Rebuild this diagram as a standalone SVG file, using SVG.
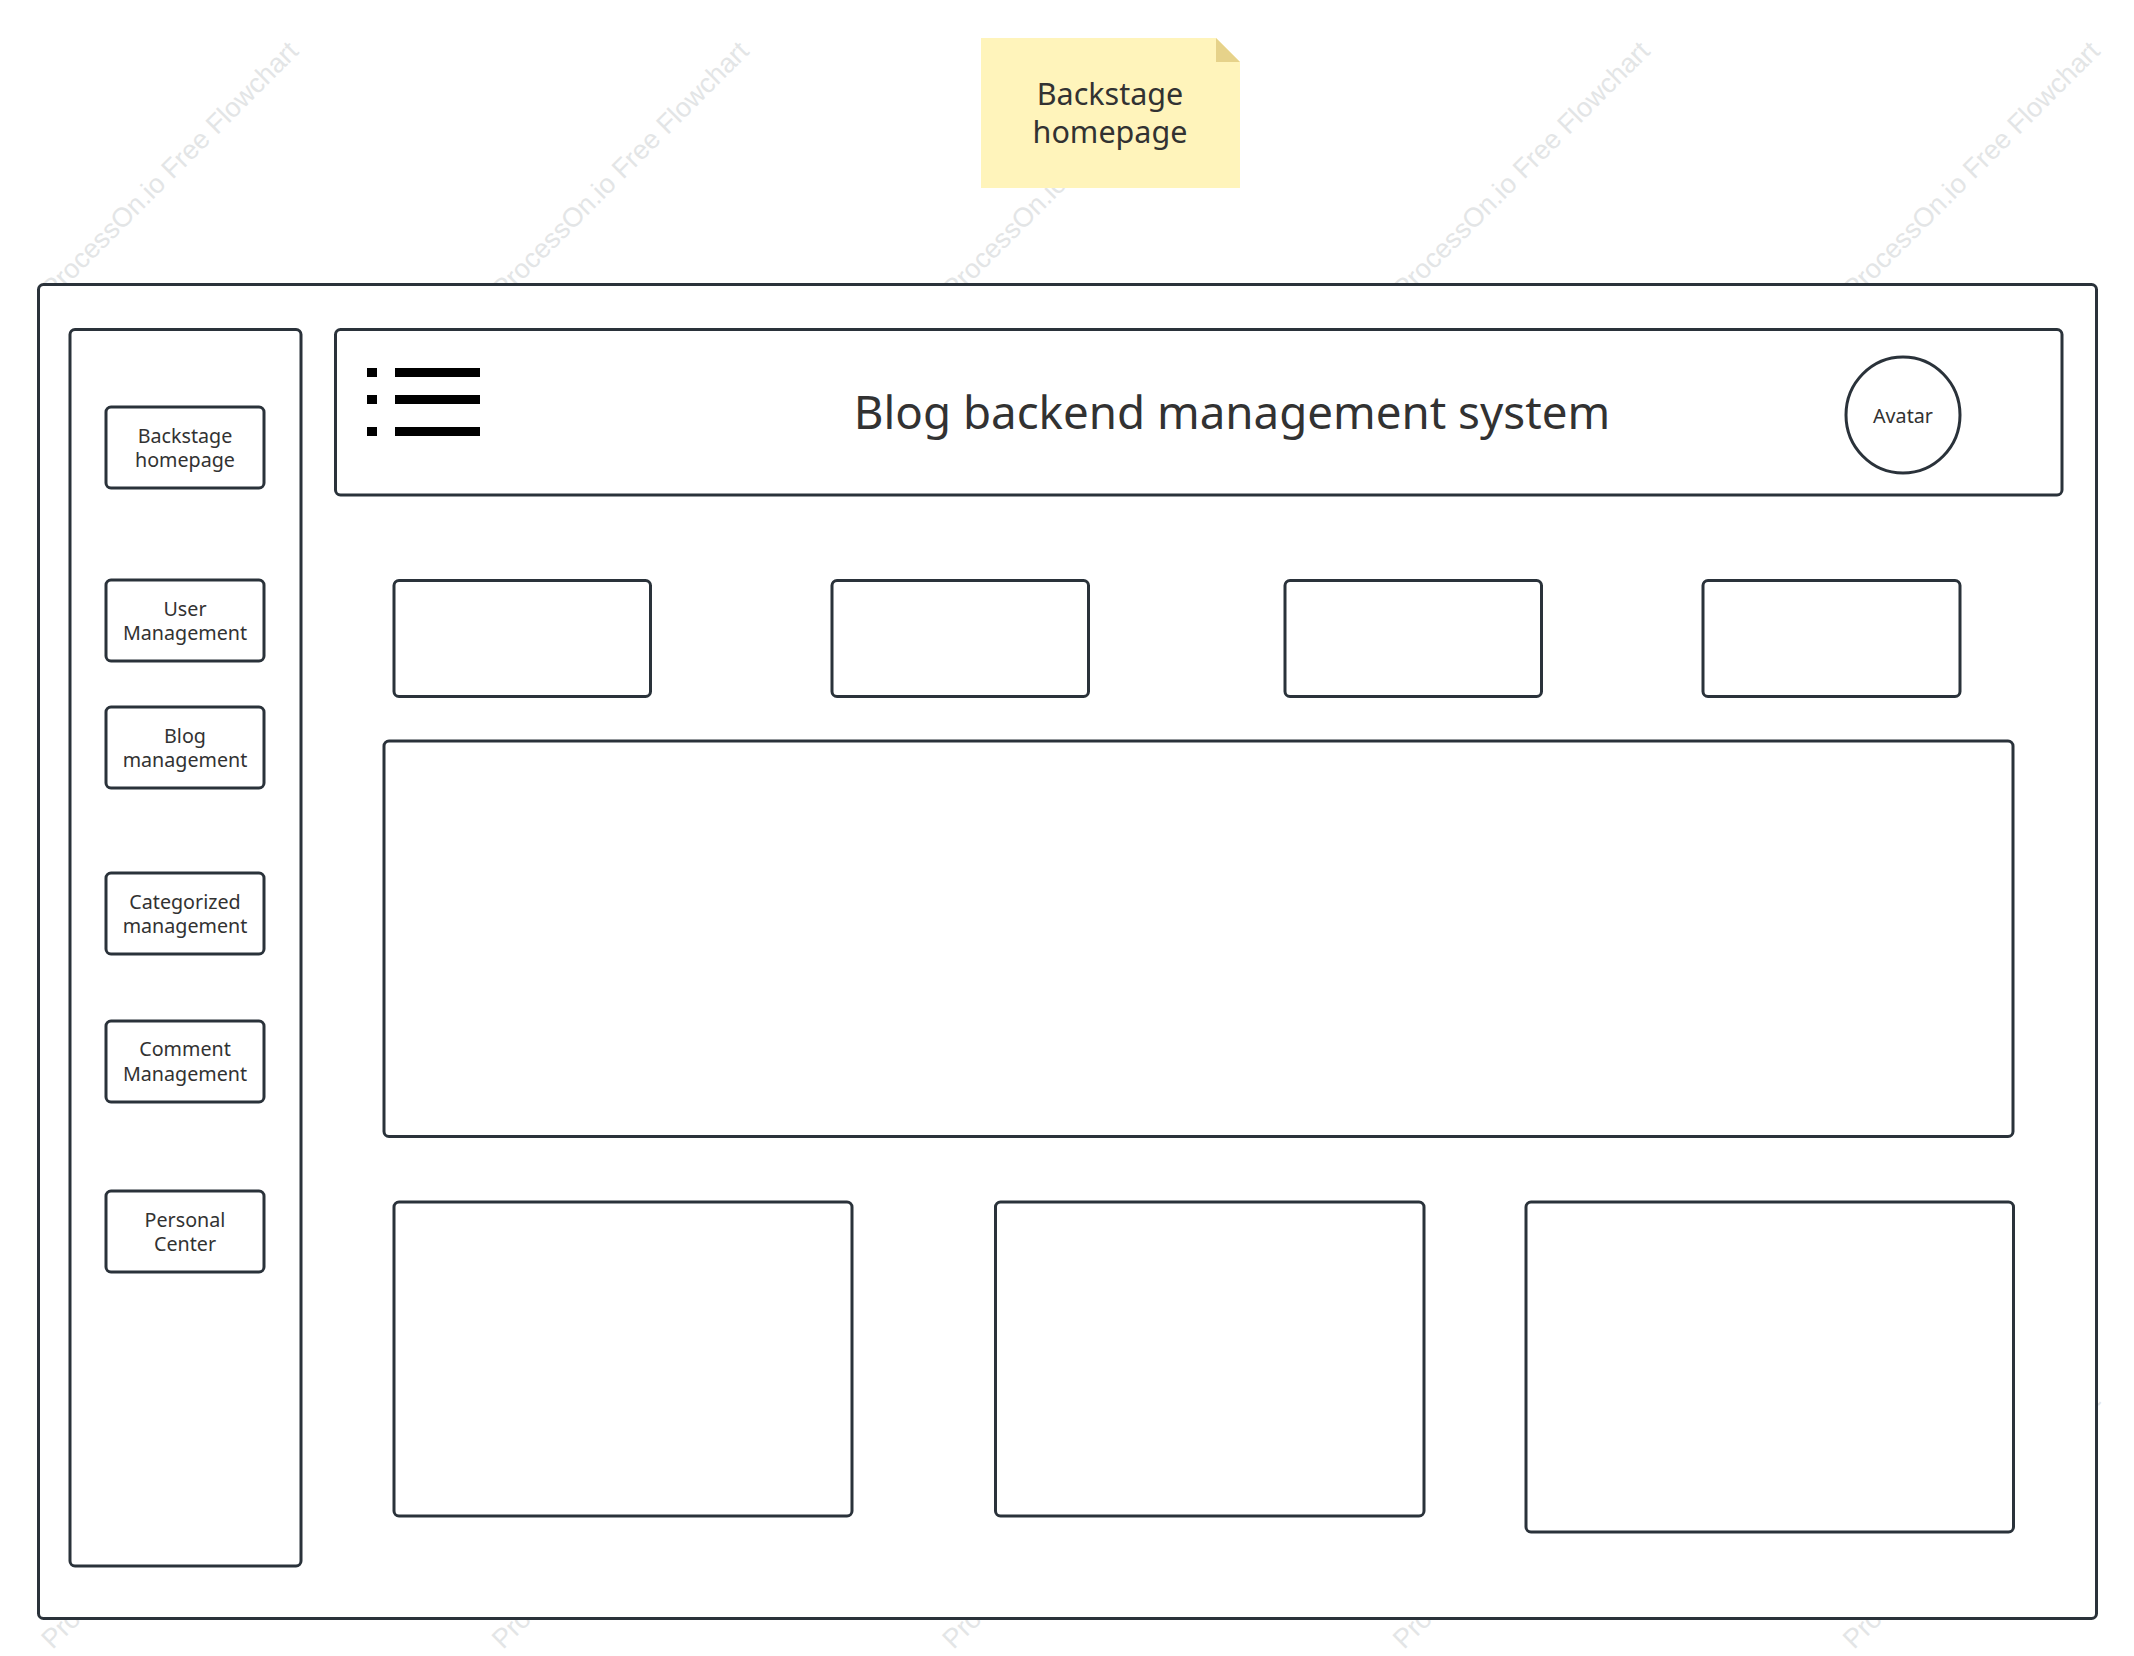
<svg xmlns="http://www.w3.org/2000/svg" width="2134" height="1656" viewBox="0 0 2134 1656">
<style>
.box{fill:#fff;stroke:#2a323a;stroke-width:3}
.wire{fill:none;stroke:#2a323a;stroke-width:3}
.t{font-family:"Noto Sans","Open Sans",sans-serif;fill:#323232;text-anchor:middle}
.n{font-size:19.7px}
.s{font-size:30.5px}
.h{font-size:45.7px}
.wm{font-family:"Liberation Sans",Arial,sans-serif;font-size:27px;fill:#e3e5e6}
</style>
<rect width="2134" height="1656" fill="#fff"/>
<g id="watermarks">
<text class="wm" transform="translate(52.500 300) rotate(-45)">ProcessOn.io Free Flowchart</text>
<text class="wm" transform="translate(503 300) rotate(-45)">ProcessOn.io Free Flowchart</text>
<text class="wm" transform="translate(953.500 300) rotate(-45)">ProcessOn.io Free Flowchart</text>
<text class="wm" transform="translate(1404 300) rotate(-45)">ProcessOn.io Free Flowchart</text>
<text class="wm" transform="translate(1854 300) rotate(-45)">ProcessOn.io Free Flowchart</text>
<text class="wm" transform="translate(52.500 1650) rotate(-45)">ProcessOn.io Free Flowchart</text>
<text class="wm" transform="translate(503 1650) rotate(-45)">ProcessOn.io Free Flowchart</text>
<text class="wm" transform="translate(953.500 1650) rotate(-45)">ProcessOn.io Free Flowchart</text>
<text class="wm" transform="translate(1404 1650) rotate(-45)">ProcessOn.io Free Flowchart</text>
<text class="wm" transform="translate(1854 1650) rotate(-45)">ProcessOn.io Free Flowchart</text>
</g>
<g id="note">
<path d="M981 38H1216L1240 62V188H981Z" fill="#fff4bb"/>
<path d="M1216 38L1240 62H1216Z" fill="#e6d28a"/>
<text class="t s" x="1110" y="105">Backstage</text>
<text class="t s" x="1110" y="143">homepage</text>
</g>
<g id="window"><rect class="box" x="38.500" y="284.500" width="2058" height="1334" rx="5"/></g>
<g id="sidebar"><rect class="box" x="70" y="329.500" width="231" height="1236.500" rx="5"/></g>
<g id="header"><rect class="box" x="335.500" y="329.500" width="1726.500" height="165.500" rx="5"/>
<text class="t h" x="1232" y="429">Blog backend management system</text></g>
<g id="menu-icon" fill="#000">
<rect x="367" y="368" width="10" height="9"/><rect x="395" y="368" width="85" height="9"/>
<rect x="367" y="395" width="10" height="9"/><rect x="395" y="395" width="85" height="9"/>
<rect x="367" y="427" width="10" height="9"/><rect x="395" y="427" width="85" height="9"/>
</g>
<g id="avatar"><ellipse class="wire" cx="1903" cy="415" rx="57" ry="58"/><text class="t n" x="1903" y="423">Avatar</text></g>
<g id="nav-home"><rect class="box" x="106" y="407" width="158" height="81" rx="5"/><text class="t n" x="185" y="443">Backstage</text><text class="t n" x="185" y="467">homepage</text></g>
<g id="nav-user"><rect class="box" x="106" y="580" width="158" height="81" rx="5"/><text class="t n" x="185" y="616">User</text><text class="t n" x="185" y="640">Management</text></g>
<g id="nav-blog"><rect class="box" x="106" y="707" width="158" height="81" rx="5"/><text class="t n" x="185" y="743">Blog</text><text class="t n" x="185" y="767">management</text></g>
<g id="nav-category"><rect class="box" x="106" y="873" width="158" height="81" rx="5"/><text class="t n" x="185" y="909">Categorized</text><text class="t n" x="185" y="933">management</text></g>
<g id="nav-comment"><rect class="box" x="106" y="1021" width="158" height="81" rx="5"/><text class="t n" x="185" y="1056">Comment</text><text class="t n" x="185" y="1081">Management</text></g>
<g id="nav-personal"><rect class="box" x="106" y="1191" width="158" height="81" rx="5"/><text class="t n" x="185" y="1227">Personal</text><text class="t n" x="185" y="1251">Center</text></g>
<g id="card-1"><rect class="box" x="394" y="580.500" width="256.500" height="116" rx="5"/></g>
<g id="card-2"><rect class="box" x="832" y="580.500" width="256.500" height="116" rx="5"/></g>
<g id="card-3"><rect class="box" x="1285" y="580.500" width="256.500" height="116" rx="5"/></g>
<g id="card-4"><rect class="box" x="1703" y="580.500" width="257" height="116" rx="5"/></g>
<g id="main-panel"><rect class="box" x="384" y="741" width="1629" height="395.500" rx="5"/></g>
<g id="panel-1"><rect class="box" x="394" y="1202" width="458" height="314" rx="5"/></g>
<g id="panel-2"><rect class="box" x="995.500" y="1202" width="428.500" height="314" rx="5"/></g>
<g id="panel-3"><rect class="box" x="1526" y="1202" width="487.500" height="330" rx="5"/></g>
</svg>
